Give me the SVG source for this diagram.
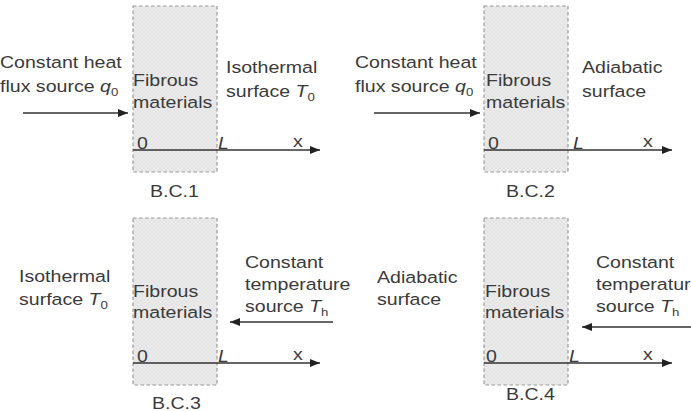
<svg xmlns="http://www.w3.org/2000/svg" width="691" height="411" viewBox="0 0 691 411">
<defs>
<pattern id="hatch" width="4" height="4" patternUnits="userSpaceOnUse">
<rect width="4" height="4" fill="#ededed"/>
<path d="M0,4 L4,0 M0,0 L4,4" stroke="#dcdcdc" stroke-width="0.7"/>
</pattern>
<marker id="ah" markerWidth="11" markerHeight="9" refX="10" refY="4" orient="auto" markerUnits="userSpaceOnUse">
<path d="M0,0 L10,4 L0,8 z" fill="#222"/>
</marker>
</defs>
<style>
.box{fill:url(#hatch);stroke:#9a9a9a;stroke-width:1.2;stroke-dasharray:3.5 2.5}
.ln{stroke:#333;stroke-width:1.6;fill:none;marker-end:url(#ah)}
text{font-family:"Liberation Sans",Arial,sans-serif;font-size:16.3px;fill:#3a3a3a}
.it{font-style:italic}
.sub{font-size:11px}
</style>

<g id="bc1">
<rect class="box" x="133" y="6" width="84" height="166"/>
<text transform="translate(0,68) scale(1.2,1)">Constant heat</text>
<text transform="translate(0,92) scale(1.2,1)">flux source <tspan class="it">q</tspan><tspan class="sub" dy="4">0</tspan></text>
<text transform="translate(133,86) scale(1.2,1)">Fibrous</text>
<text transform="translate(133,108) scale(1.2,1)">materials</text>
<text transform="translate(226,73) scale(1.2,1)">Isothermal</text>
<text transform="translate(226,97) scale(1.2,1)">surface <tspan class="it">T</tspan><tspan class="sub" dy="4">0</tspan></text>
<text transform="translate(137,149) scale(1.2,1)">0</text>
<text class="it" transform="translate(218,149) scale(1.2,1)">L</text>
<text transform="translate(293,147) scale(1.2,1)">x</text>
<text transform="translate(150,197) scale(1.2,1)">B.C.1</text>
</g>

<g id="bc2">
<rect class="box" x="484" y="6" width="84" height="166"/>
<text transform="translate(355,68) scale(1.2,1)">Constant heat</text>
<text transform="translate(355,92) scale(1.2,1)">flux source <tspan class="it">q</tspan><tspan class="sub" dy="4">0</tspan></text>
<text transform="translate(486,86) scale(1.2,1)">Fibrous</text>
<text transform="translate(486,108) scale(1.2,1)">materials</text>
<text transform="translate(582,73) scale(1.2,1)">Adiabatic</text>
<text transform="translate(582,97) scale(1.2,1)">surface</text>
<text transform="translate(488,149) scale(1.2,1)">0</text>
<text class="it" transform="translate(573,149) scale(1.2,1)">L</text>
<text transform="translate(643,147) scale(1.2,1)">x</text>
<text transform="translate(506,197) scale(1.2,1)">B.C.2</text>
</g>

<g id="bc3">
<rect class="box" x="133" y="218" width="84" height="167"/>
<text transform="translate(19,282) scale(1.2,1)">Isothermal</text>
<text transform="translate(19,305) scale(1.2,1)">surface <tspan class="it">T</tspan><tspan class="sub" dy="4">0</tspan></text>
<text transform="translate(133,297) scale(1.2,1)">Fibrous</text>
<text transform="translate(133,318) scale(1.2,1)">materials</text>
<text transform="translate(245,268) scale(1.2,1)">Constant</text>
<text transform="translate(245,290) scale(1.2,1)">temperature</text>
<text transform="translate(245,312) scale(1.2,1)">source <tspan class="it">T</tspan><tspan class="sub" dy="4">h</tspan></text>
<text transform="translate(137,362) scale(1.2,1)">0</text>
<text class="it" transform="translate(218,362) scale(1.2,1)">L</text>
<text transform="translate(293,360) scale(1.2,1)">x</text>
<text transform="translate(152,409) scale(1.2,1)">B.C.3</text>
</g>

<g id="bc4">
<rect class="box" x="484" y="218" width="84" height="167"/>
<text transform="translate(377,283) scale(1.2,1)">Adiabatic</text>
<text transform="translate(377,305) scale(1.2,1)">surface</text>
<text transform="translate(485,297) scale(1.2,1)">Fibrous</text>
<text transform="translate(485,318) scale(1.2,1)">materials</text>
<text transform="translate(596,268) scale(1.2,1)">Constant</text>
<text transform="translate(596,290) scale(1.2,1)">temperature</text>
<text transform="translate(596,312) scale(1.2,1)">source <tspan class="it">T</tspan><tspan class="sub" dy="4">h</tspan></text>
<text transform="translate(486,362) scale(1.2,1)">0</text>
<text class="it" transform="translate(569,362) scale(1.2,1)">L</text>
<text transform="translate(643,360) scale(1.2,1)">x</text>
<text transform="translate(506,400) scale(1.2,1)">B.C.4</text>
</g>

<g id="connectors">
<line class="ln" x1="23" y1="113" x2="128" y2="113"/>
<line class="ln" x1="133" y1="150" x2="320" y2="150"/>
<line class="ln" x1="374" y1="113" x2="480" y2="113"/>
<line class="ln" x1="484" y1="150" x2="672" y2="150"/>
<line class="ln" x1="333" y1="322" x2="230" y2="322"/>
<line class="ln" x1="133" y1="363" x2="320" y2="363"/>
<line class="ln" x1="691" y1="327" x2="582" y2="327"/>
<line class="ln" x1="484" y1="363" x2="672" y2="363"/>
</g>
</svg>
